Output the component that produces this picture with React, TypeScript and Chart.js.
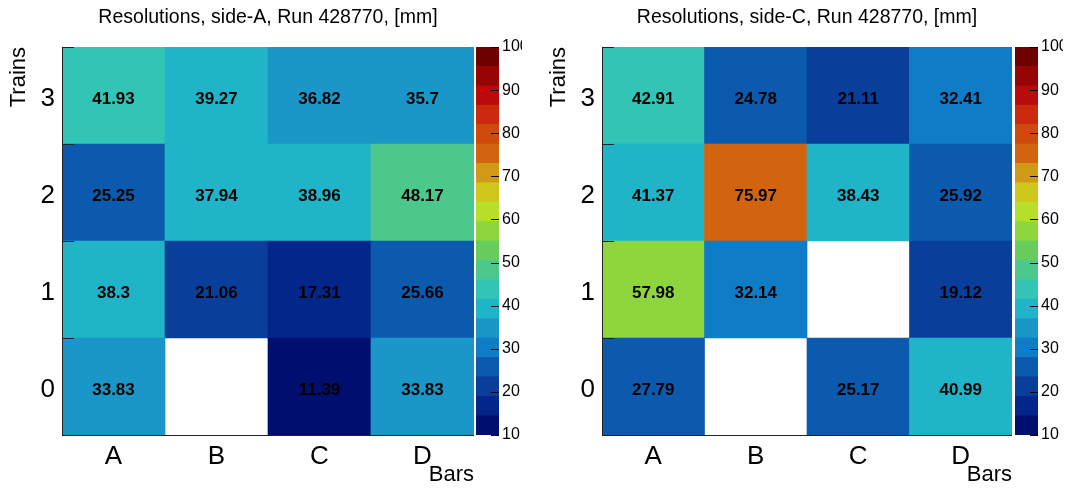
import React, { useEffect, useRef } from "react";
import { Chart, registerables } from "chart.js";
Chart.register(...registerables);

// ---------- data ----------
const bars = ["A", "B", "C", "D"];
const trains = [0, 1, 2, 3];

const sideA_train0 = [33.83, null, 11.39, 33.83];
const sideA_train1 = [38.3, 21.06, 17.31, 25.66];
const sideA_train2 = [25.25, 37.94, 38.96, 48.17];
const sideA_train3 = [41.93, 39.27, 36.82, 35.7];

const sideC_train0 = [27.79, null, 25.17, 40.99];
const sideC_train1 = [57.98, 32.14, null, 19.12];
const sideC_train2 = [41.37, 75.97, 38.43, 25.92];
const sideC_train3 = [42.91, 24.78, 21.11, 32.41];

const zMin = 10;
const zMax = 100;
const colorTicks = [10, 20, 30, 40, 50, 60, 70, 80, 90, 100];
const palette = [
  "#000e70", "#03268a", "#093e9a", "#0c5aae", "#0f7cc8",
  "#1a97c8", "#1fb4c8", "#32c4b4", "#4dc88c", "#67cc5c",
  "#8dd63d", "#b6df2a", "#cfc71c", "#d09a17", "#d3640f",
  "#cf4a0d", "#cb2a0f", "#b90b0b", "#960404", "#6e0000",
];

const titleA = "Resolutions, side-A, Run 428770, [mm]";
const titleC = "Resolutions, side-C, Run 428770, [mm]";

const FONT = "'Liberation Sans', Arial, Helvetica, sans-serif";
Chart.defaults.font.family = FONT;
Chart.defaults.color = "#000";

const step = (zMax - zMin) / palette.length;
function colorFor(v: number | null): string {
  if (v == null) return "rgba(0,0,0,0)";
  let i = Math.floor((v - zMin) / step);
  i = Math.max(0, Math.min(palette.length - 1, i));
  return palette[i];
}

const cellLabels = {
  id: "cellLabels",
  afterDatasetsDraw(chart: any) {
    const ctx = chart.ctx;
    ctx.save();
    ctx.font = `bold 17px ${FONT}`;
    ctx.fillStyle = "#000";
    ctx.textAlign = "center";
    ctx.textBaseline = "middle";
    chart.data.datasets.forEach((ds: any, di: number) => {
      const meta = chart.getDatasetMeta(di);
      meta.data.forEach((el: any, i: number) => {
        const v = ds.values[i];
        if (v == null) return;
        ctx.fillText(String(v), el.x, (el.y + el.base) / 2 + 4);
      });
    });
    ctx.restore();
  },
};

const frame = {
  id: "frame",
  afterDraw(chart: any) {
    const ctx = chart.ctx;
    const { left, right, top, bottom } = chart.chartArea;
    const y = chart.scales.y;
    ctx.save();
    ctx.strokeStyle = "#222";
    ctx.lineWidth = 1;
    ctx.beginPath();
    ctx.moveTo(left + 0.5, top);
    ctx.lineTo(left + 0.5, bottom + 0.5);
    ctx.lineTo(right, bottom + 0.5);
    for (let t = 0; t <= trains.length; t++) {
      const py = Math.round(y.getPixelForValue(t)) + 0.5;
      ctx.moveTo(left, py);
      ctx.lineTo(left + 12, py);
    }
    ctx.stroke();
    ctx.restore();
  },
};

const barTicks = {
  id: "barTicks",
  afterDraw(chart: any) {
    const ctx = chart.ctx;
    const { right } = chart.chartArea;
    const y = chart.scales.y;
    ctx.save();
    ctx.strokeStyle = "#000";
    ctx.lineWidth = 1;
    ctx.beginPath();
    colorTicks.forEach((t) => {
      const py = Math.round(y.getPixelForValue(t)) + 0.5;
      ctx.moveTo(right, py);
      ctx.lineTo(right - 8, py);
    });
    ctx.stroke();
    ctx.restore();
  },
};

function Heatmap({ rows, title, padRight }: { rows: (number | null)[][]; title: string; padRight: number }) {
  const ref = useRef<HTMLCanvasElement>(null);
  useEffect(() => {
    const chart = new Chart(ref.current!, {
      type: "bar",
      data: {
        labels: bars,
        datasets: trains.map((t, ti) => ({
          label: "Train " + t,
          data: rows[ti].map((v) => (v == null ? null : [t, t + 1])) as any,
          values: rows[ti],
          backgroundColor: rows[ti].map((v) => colorFor(v)),
          borderWidth: 0,
          barPercentage: 1,
          categoryPercentage: 1,
          grouped: false,
        })) as any,
      },
      options: {
        responsive: false,
        animation: false,
        layout: { padding: { left: 0, right: padRight, top: 0, bottom: 0 } },
        plugins: {
          legend: { display: false },
          tooltip: { enabled: false },
          title: {
            display: true,
            text: title,
            fullSize: false,
            font: { size: 19.5, weight: "normal" },
            color: "#000",
            padding: { top: 6, bottom: 17.6 },
          },
        },
        scales: {
          x: {
            type: "category",
            offset: true,
            grid: { display: false, drawTicks: false },
            border: { display: false },
            ticks: { font: { size: 26 }, color: "#000", padding: 6 },
            title: { display: true, text: "Bars", align: "end", font: { size: 22 }, color: "#000", padding: { top: 0, bottom: 0 } },
            afterFit: (s: any) => { s.height = 53; },
          },
          y: {
            type: "linear",
            min: 0,
            max: 4,
            grid: { display: false, drawTicks: false },
            border: { display: false },
            afterBuildTicks: (s: any) => { s.ticks = trains.map((t) => ({ value: t + 0.47 })); },
            ticks: { font: { size: 26 }, color: "#000", padding: 7, autoSkip: false, callback: (v: any) => String(Math.floor(Number(v))) },
            title: { display: true, text: "Trains", align: "end", font: { size: 22 }, color: "#000", padding: { top: 6, bottom: 0 } },
            afterFit: (s: any) => { s.width = 62; },
          },
        },
      } as any,
      plugins: [cellLabels, frame],
    });
    return () => chart.destroy();
  }, []);
  return <canvas ref={ref} width={480} height={488} />;
}

function ColorBar({ width, axisWidth }: { width: number; axisWidth: number }) {
  const ref = useRef<HTMLCanvasElement>(null);
  useEffect(() => {
    const chart = new Chart(ref.current!, {
      type: "bar",
      data: {
        labels: [""],
        datasets: palette.map((c, i) => ({
          label: "bin " + i,
          data: [[zMin + i * step, zMin + (i + 1) * step]] as any,
          backgroundColor: c,
          borderWidth: 0,
          barPercentage: 1,
          categoryPercentage: 1,
          grouped: false,
        })) as any,
      },
      options: {
        responsive: false,
        animation: false,
        layout: { padding: { left: 6, right: 0, top: 47, bottom: 53 } },
        plugins: { legend: { display: false }, tooltip: { enabled: false }, title: { display: false } },
        scales: {
          x: { display: false, offset: true },
          y: {
            position: "right",
            min: zMin,
            max: zMax,
            grid: { display: false, drawTicks: false },
            border: { display: false },
            afterBuildTicks: (s: any) => { s.ticks = colorTicks.map((t) => ({ value: t })); },
            ticks: { font: { size: 16 }, color: "#000", padding: 3, autoSkip: false },
            afterFit: (s: any) => { s.width = axisWidth; },
          },
        },
      } as any,
      plugins: [barTicks],
    });
    return () => chart.destroy();
  }, []);
  return <canvas ref={ref} width={width} height={488} />;
}

export default function App() {
  const rowsA = [sideA_train0, sideA_train1, sideA_train2, sideA_train3];
  const rowsC = [sideC_train0, sideC_train1, sideC_train2, sideC_train3];
  return (
    <div style={{ position: "absolute", left: 0, top: 0, width: 1069, height: 488, background: "#fff", overflow: "hidden" }}>
      <div style={{ position: "absolute", left: 0, top: 0 }}>
        <Heatmap rows={rowsA} title={titleA} padRight={6} />
      </div>
      <div style={{ position: "absolute", left: 470, top: 0 }}>
        <ColorBar width={52} axisWidth={23} />
      </div>
      <div style={{ position: "absolute", left: 540, top: 0 }}>
        <Heatmap rows={rowsC} title={titleC} padRight={8} />
      </div>
      <div style={{ position: "absolute", left: 1009, top: 0 }}>
        <ColorBar width={54} axisWidth={25} />
      </div>
    </div>
  );
}
